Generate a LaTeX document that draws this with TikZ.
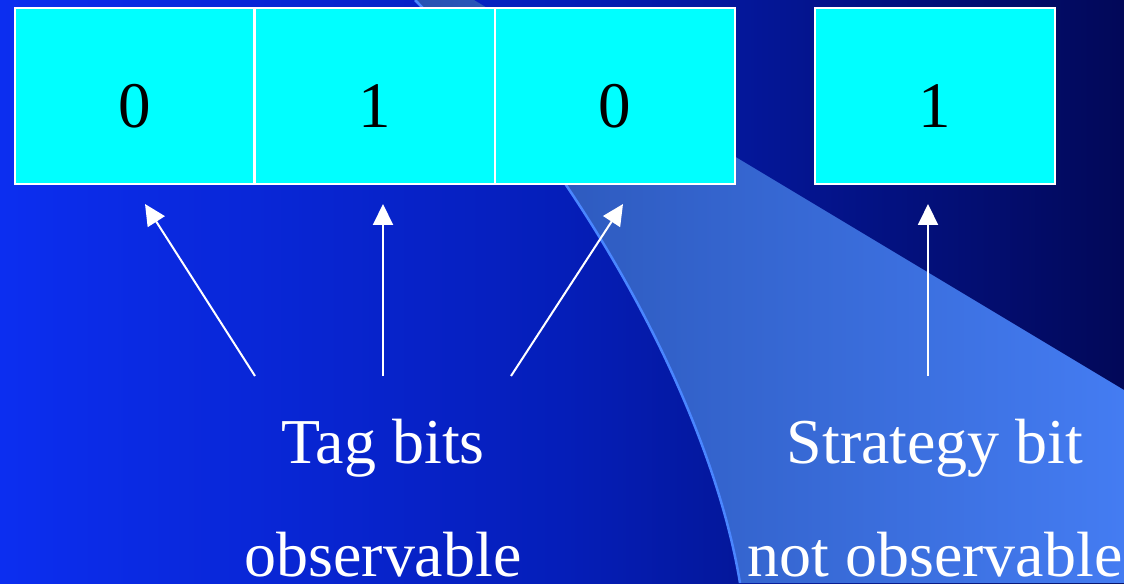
\documentclass[tikz,border=0pt]{standalone}
\usepackage{fontspec}
\setmainfont{Liberation Serif}
\usetikzlibrary{arrows.meta}
\usetikzlibrary{positioning,calc}

\definecolor{bgleft}{RGB}{12,46,240}
\definecolor{bgmid}{RGB}{5,30,185}
\definecolor{bgright}{RGB}{2,8,88}
\definecolor{bandleft}{RGB}{40,82,178}
\definecolor{bandright}{RGB}{68,124,242}
\definecolor{bandedge}{RGB}{74,134,255}
\definecolor{bitcyan}{RGB}{0,255,255}

\tikzset{
    bitbox/.style={draw=white, line width=0.04cm, fill=bitcyan, minimum width=4.8cm,
        minimum height=3.52cm, inner sep=0pt, text height=1.26cm, text depth=0pt,
        font=\fontsize{37}{40}\selectfont},
    captext/.style={text=white, anchor=base, inner sep=0pt, font=\fontsize{36.4}{40}\selectfont},
    pointer/.style={-{Triangle[length=0.42cm,width=0.4cm]}, draw=white, line width=0.04cm},
}

\begin{document}
\begin{tikzpicture}[x=0.02cm,y=-0.02cm]
        \def\rise{87}
        \def\fan{128}
        % background and band
        \shade [left color=bgleft, right color=bgright, middle color=bgmid] (0,0) rectangle (1124,583);
        \useasboundingbox (0,0) rectangle (1124,583);
        \shade [left color=bandleft, right color=bandright] (415,0)
            .. controls (575,160) and (710,400) .. (740,583) -- (1124,583) -- (1124,390) -- (474,0) -- cycle;
        \draw [bandedge, line width=0.05cm] (415,0) .. controls (575,160) and (710,400) .. (740,583);
        % bits
        \foreach[count=\i] \bit/\cx in {0/134.5, 1/375, 0/615}
        {
            \node [bitbox] (b\i) at (\cx,96) {\bit};
        }
        \node [bitbox] (s1) at (935,96) {1};
        % captions
        \node [captext] (tag) at (383,463) {Tag bits};
        \node [captext] (tagobs) at (383,576) {observable};
        \node [captext] (strat) at (935,463) {Strategy bit};
        \node [captext] (stratobs) at (935,576) {not observable};
        % pointers
        \coordinate (t1) at ($(tag.base) + (-\fan,-\rise)$);
        \coordinate (t2) at ($(tag.base) + (0,-\rise)$);
        \coordinate (t3) at ($(tag.base) + (\fan,-\rise)$);
        \coordinate (t4) at ($(strat.base) + (-7,-\rise)$);
        \coordinate (h1) at ($(b1.south) + (10.5,19)$);
        \coordinate (h2) at ($(b2.south) + (8,19)$);
        \coordinate (h3) at ($(b3.south) + (8,19)$);
        \coordinate (h4) at ($(s1.south) + (-7,19)$);
        \foreach \k in {1,...,4}
        {
            \draw [pointer] (t\k) -- (h\k);
        }
\end{tikzpicture}
\end{document}
